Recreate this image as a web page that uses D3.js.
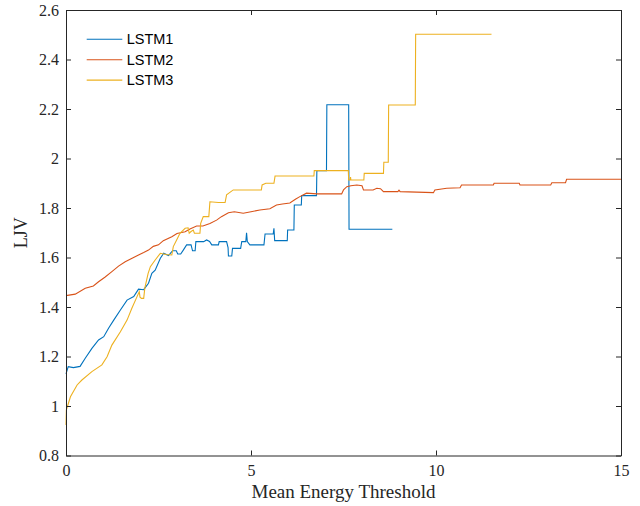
<!DOCTYPE html>
<html>
<head>
<meta charset="utf-8">
<script src="https://cdn.jsdelivr.net/npm/d3@7"></script>
<style>
  body { margin: 0; background: #fff; }
  svg { display: block; }
  .tick text { font-family: "Liberation Serif", "DejaVu Serif", serif; font-size: 16px; fill: #262626; }
  .axis path, .axis line { stroke: #262626; }
</style>
</head>
<body>
<svg id="chart" width="640" height="506"></svg>
<script>
// series, [threshold, LJV]
var lstm1 = [[0,1.13],[0.06,1.159],[0.2,1.155],[0.38,1.16],[0.52,1.193],[0.7,1.233],[0.88,1.267],[1.02,1.28],[1.15,1.314],[1.29,1.347],[1.47,1.388],[1.65,1.428],[1.83,1.442],[1.96,1.472],[2.1,1.47],[2.23,1.496],[2.32,1.536],[2.41,1.549],[2.55,1.597],[2.64,1.617],[2.77,1.608],[2.88,1.627],[2.98,1.627],[3.02,1.614],[3.1,1.614],[3.17,1.63],[3.26,1.651],[3.38,1.651],[3.42,1.627],[3.49,1.627],[3.51,1.664],[3.72,1.664],[3.8,1.671],[3.88,1.665],[3.94,1.651],[4.12,1.651],[4.14,1.664],[4.34,1.664],[4.38,1.64],[4.39,1.606],[4.48,1.606],[4.5,1.637],[4.72,1.637],[4.75,1.664],[4.86,1.664],[4.88,1.70],[4.9,1.664],[4.97,1.651],[5.35,1.651],[5.38,1.695],[5.6,1.695],[5.62,1.718],[5.64,1.668],[5.98,1.668],[5.99,1.711],[6.16,1.711],[6.17,1.812],[6.36,1.812],[6.37,1.85],[6.77,1.85],[6.78,1.951],[7.04,1.951],[7.05,2.217],[7.64,2.217],[7.65,1.714],[8.82,1.714]];

var lstm2 = [[0,1.446],[0.25,1.452],[0.52,1.476],[0.74,1.485],[0.88,1.502],[1.05,1.52],[1.24,1.543],[1.42,1.565],[1.6,1.583],[1.8,1.598],[1.96,1.61],[2.1,1.62],[2.23,1.63],[2.36,1.645],[2.5,1.651],[2.63,1.668],[2.86,1.684],[3.0,1.697],[3.22,1.704],[3.35,1.715],[3.53,1.727],[3.7,1.727],[3.89,1.737],[4.07,1.751],[4.2,1.765],[4.39,1.781],[4.55,1.785],[4.79,1.779],[5.0,1.785],[5.24,1.792],[5.51,1.797],[5.69,1.812],[5.85,1.816],[6.05,1.82],[6.2,1.835],[6.32,1.846],[6.5,1.86],[6.78,1.857],[7.0,1.857],[7.45,1.857],[7.5,1.873],[7.59,1.886],[7.7,1.89],[7.86,1.893],[8.0,1.89],[8.04,1.873],[8.3,1.873],[8.4,1.88],[8.5,1.878],[8.58,1.866],[8.97,1.866],[9.0,1.872],[9.03,1.866],[9.93,1.862],[9.97,1.873],[10.29,1.88],[10.65,1.882],[10.69,1.893],[11.55,1.893],[11.57,1.9],[12.25,1.9],[12.27,1.893],[13.1,1.893],[13.13,1.902],[13.5,1.902],[13.53,1.916],[15,1.916]];

var lstm3 = [[0,0.923],[0.01,0.984],[0.12,1.037],[0.3,1.085],[0.43,1.105],[0.7,1.139],[0.97,1.166],[1.11,1.199],[1.24,1.246],[1.47,1.3],[1.65,1.347],[1.78,1.395],[1.92,1.442],[1.98,1.462],[2.0,1.44],[2.04,1.435],[2.1,1.435],[2.13,1.476],[2.22,1.536],[2.28,1.563],[2.41,1.59],[2.55,1.617],[2.7,1.612],[2.86,1.61],[2.9,1.644],[2.99,1.671],[3.08,1.698],[3.22,1.718],[3.3,1.72],[3.33,1.698],[3.38,1.705],[3.44,1.711],[3.47,1.698],[3.62,1.698],[3.64,1.738],[3.71,1.765],[3.86,1.765],[3.89,1.825],[4.12,1.822],[4.3,1.822],[4.34,1.853],[4.52,1.873],[5.28,1.873],[5.3,1.893],[5.4,1.9],[5.62,1.9],[5.65,1.929],[6.7,1.929],[6.71,1.951],[7.63,1.951],[7.64,1.913],[7.68,1.913],[7.69,1.925],[7.7,1.913],[8.05,1.913],[8.06,1.94],[8.58,1.94],[8.59,1.985],[8.71,1.985],[8.72,2.216],[9.44,2.216],[9.45,2.502],[11.5,2.502]];

var seriesNames = ["LSTM1", "LSTM2", "LSTM3"];
var seriesColors = ["#0072BD", "#D95319", "#EDB120"];
var xTicks = [0, 5, 10, 15];
var yTicks = [0.8, 1, 1.2, 1.4, 1.6, 1.8, 2, 2.2, 2.4, 2.6];
var xLabel = "Mean Energy Threshold";
var yLabel = "LJV";

var svg = d3.select("#chart"),
    margin = {top: 10, right: 19, bottom: 50.5, left: 66},
    width = 640 - margin.left - margin.right,
    height = 506 - margin.top - margin.bottom,
    g = svg.append("g").attr("transform", "translate(" + margin.left + "," + margin.top + ")");

var x = d3.scaleLinear().domain([0, 15]).range([0, width]);
var y = d3.scaleLinear().domain([0.8, 2.6]).range([height, 0]);
var fmt = d3.format("~g");

// lines first, axes drawn over them
var line = d3.line()
    .x(function(d) { return x(d[0]); })
    .y(function(d) { return y(d[1]); });

[lstm1, lstm2, lstm3].forEach(function(s, i) {
  g.append("path")
      .datum(s)
      .attr("fill", "none")
      .attr("stroke", seriesColors[i])
      .attr("stroke-width", 1.1)
      .attr("stroke-linejoin", "miter")
      .attr("d", line);
});

g.append("g")
    .attr("class", "axis")
    .attr("transform", "translate(0," + height + ")")
    .call(d3.axisBottom(x).tickValues(xTicks).tickFormat(fmt).tickSizeInner(-5).tickSizeOuter(0).tickPadding(9));

g.append("g")
    .attr("class", "axis")
    .call(d3.axisTop(x).tickValues(xTicks).tickFormat("").tickSizeInner(-5).tickSizeOuter(0));

g.append("g")
    .attr("class", "axis")
    .call(d3.axisLeft(y).tickValues(yTicks).tickFormat(fmt).tickSizeInner(-5).tickSizeOuter(0).tickPadding(7));

g.append("g")
    .attr("class", "axis")
    .attr("transform", "translate(" + width + ",0)")
    .call(d3.axisRight(y).tickValues(yTicks).tickFormat("").tickSizeInner(-5).tickSizeOuter(0));

g.selectAll(".domain").attr("stroke-width", 1);

g.append("text")
    .attr("x", width / 2)
    .attr("y", height + 42)
    .attr("text-anchor", "middle")
    .style("font-family", "'Liberation Serif', 'DejaVu Serif', serif")
    .style("font-size", "19px")
    .attr("fill", "#262626")
    .text(xLabel);

g.append("text")
    .attr("transform", "translate(-39," + (height / 2) + ") rotate(-90)")
    .attr("text-anchor", "middle")
    .style("font-family", "'Liberation Serif', 'DejaVu Serif', serif")
    .style("font-size", "18px")
    .attr("fill", "#262626")
    .text(yLabel);

// legend, no box
var legend = g.append("g").attr("transform", "translate(20.7,29.3)");
seriesNames.forEach(function(name, i) {
  var row = legend.append("g").attr("transform", "translate(0," + (i * 20.4) + ")");
  row.append("line")
      .attr("x1", 0).attr("x2", 35.6)
      .attr("stroke", seriesColors[i])
      .attr("stroke-width", 1.1);
  row.append("text")
      .attr("x", 40)
      .attr("dy", "0.35em")
      .style("font-family", "'Liberation Sans', Arial, sans-serif")
      .style("font-size", "14.5px")
      .attr("fill", "#000")
      .text(name);
});
</script>
</body>
</html>
